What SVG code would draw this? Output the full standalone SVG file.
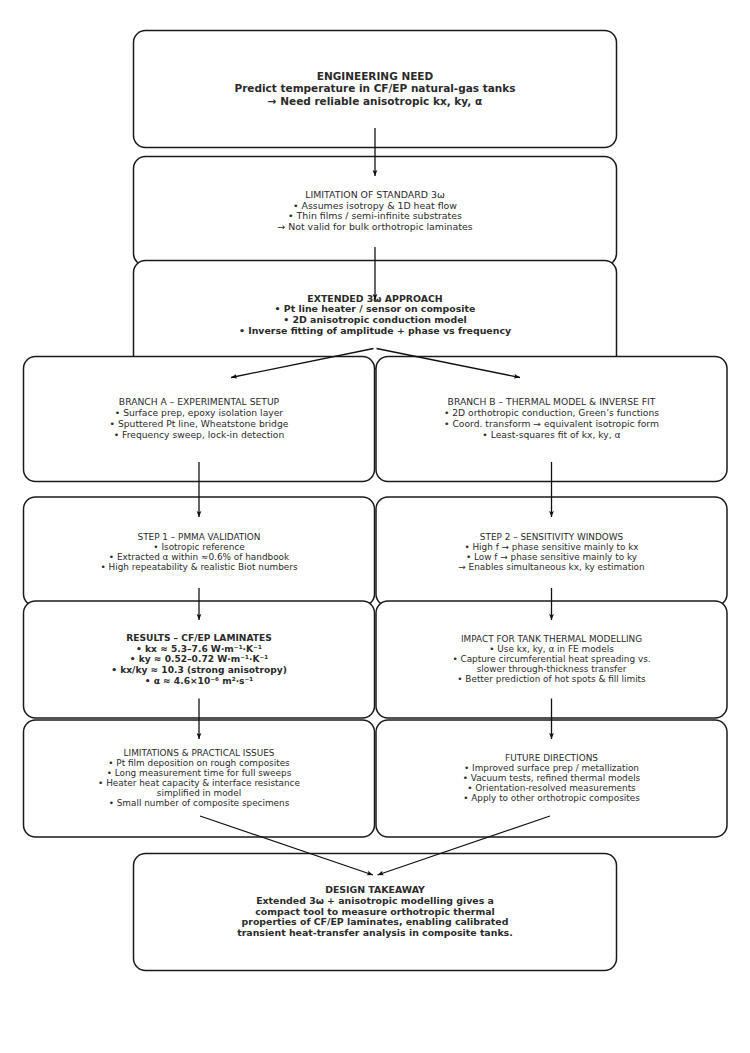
<svg xmlns="http://www.w3.org/2000/svg" width="750" height="1053" viewBox="0 0 750 1053">
<style>
.box{fill:#fff;stroke:#1a1a1a;stroke-width:1.5}
text{font-family:"DejaVu Sans",Verdana,sans-serif;fill:#2b2b2b;text-anchor:middle}
.b{font-weight:bold}
.conn line{stroke:#111;stroke-width:1.3;marker-end:url(#ah)}
</style>
<defs>
<marker id="ah" viewBox="0 0 10 10" refX="10" refY="5" markerWidth="6" markerHeight="6" orient="auto" markerUnits="userSpaceOnUse">
<path d="M0,1 L10,5 L0,9 L2,5 Z" fill="#111"/>
</marker>
</defs>
<rect width="750" height="1053" fill="#fff"/>

<g id="need">
<rect class="box" x="133.5" y="30.5" width="483" height="117" rx="12"/>
<text class="b" font-size="10.5"><tspan x="375" y="79.6">ENGINEERING NEED</tspan><tspan x="375" y="92.1">Predict temperature in CF/EP natural-gas tanks</tspan><tspan x="375" y="104.6">→ Need reliable anisotropic kx, ky, α</tspan></text>
</g>

<g id="limitation">
<rect class="box" x="133.5" y="156.5" width="483" height="109" rx="12"/>
<text font-size="9.4"><tspan x="375" y="198.2">LIMITATION OF STANDARD 3ω</tspan><tspan x="375" y="208.8">• Assumes isotropy &amp; 1D heat flow</tspan><tspan x="375" y="219.4">• Thin films / semi-infinite substrates</tspan><tspan x="375" y="230">→ Not valid for bulk orthotropic laminates</tspan></text>
</g>

<g id="extended">
<rect class="box" x="133.5" y="260.5" width="483" height="108" rx="12"/>
<text class="b" font-size="9.4"><tspan x="375" y="301.5">EXTENDED 3ω APPROACH</tspan><tspan x="375" y="312.2">• Pt line heater / sensor on composite</tspan><tspan x="375" y="322.9">• 2D anisotropic conduction model</tspan><tspan x="375" y="333.6">• Inverse fitting of amplitude + phase vs frequency</tspan></text>
</g>

<g id="branchA">
<rect class="box" x="23.5" y="356.5" width="351" height="125" rx="12"/>
<text font-size="9.2"><tspan x="199" y="404.8">BRANCH A – EXPERIMENTAL SETUP</tspan><tspan x="199" y="415.8">• Surface prep, epoxy isolation layer</tspan><tspan x="199" y="426.8">• Sputtered Pt line, Wheatstone bridge</tspan><tspan x="199" y="437.8">• Frequency sweep, lock-in detection</tspan></text>
</g>

<g id="branchB">
<rect class="box" x="376" y="356.5" width="351" height="125" rx="12"/>
<text font-size="9.2"><tspan x="551.5" y="404.8">BRANCH B – THERMAL MODEL &amp; INVERSE FIT</tspan><tspan x="551.5" y="415.8">• 2D orthotropic conduction, Green’s functions</tspan><tspan x="551.5" y="426.8">• Coord. transform → equivalent isotropic form</tspan><tspan x="551.5" y="437.8">• Least-squares fit of kx, ky, α</tspan></text>
</g>

<g id="step1">
<rect class="box" x="23.5" y="497" width="351" height="109" rx="12"/>
<text font-size="8.9"><tspan x="199" y="539.8">STEP 1 – PMMA VALIDATION</tspan><tspan x="199" y="549.8">• Isotropic reference</tspan><tspan x="199" y="559.8">• Extracted α within ≈0.6% of handbook</tspan><tspan x="199" y="569.8">• High repeatability &amp; realistic Biot numbers</tspan></text>
</g>

<g id="step2">
<rect class="box" x="376" y="497" width="351" height="109" rx="12"/>
<text font-size="8.9"><tspan x="551.5" y="539.8">STEP 2 – SENSITIVITY WINDOWS</tspan><tspan x="551.5" y="549.8">• High f → phase sensitive mainly to kx</tspan><tspan x="551.5" y="559.8">• Low f → phase sensitive mainly to ky</tspan><tspan x="551.5" y="569.8">→ Enables simultaneous kx, ky estimation</tspan></text>
</g>

<g id="results">
<rect class="box" x="23.5" y="601" width="351" height="117" rx="12"/>
<text class="b" font-size="9.1"><tspan x="199" y="640.8">RESULTS – CF/EP LAMINATES</tspan><tspan x="199" y="651.6">• kx ≈ 5.3–7.6 W·m⁻¹·K⁻¹</tspan><tspan x="199" y="662.4">• ky ≈ 0.52–0.72 W·m⁻¹·K⁻¹</tspan><tspan x="199" y="673.2">• kx/ky ≈ 10.3 (strong anisotropy)</tspan><tspan x="199" y="684">• α ≈ 4.6×10⁻⁶ m²·s⁻¹</tspan></text>
</g>

<g id="impact">
<rect class="box" x="376" y="601" width="351" height="117" rx="12"/>
<text font-size="8.9"><tspan x="551.5" y="642.4">IMPACT FOR TANK THERMAL MODELLING</tspan><tspan x="551.5" y="652.4">• Use kx, ky, α in FE models</tspan><tspan x="551.5" y="662.4">• Capture circumferential heat spreading vs.</tspan><tspan x="551.5" y="672.4">slower through-thickness transfer</tspan><tspan x="551.5" y="682.4">• Better prediction of hot spots &amp; fill limits</tspan></text>
</g>

<g id="limitations">
<rect class="box" x="23.5" y="720" width="351" height="117" rx="12"/>
<text font-size="8.9"><tspan x="199" y="756.1">LIMITATIONS &amp; PRACTICAL ISSUES</tspan><tspan x="199" y="766.1">• Pt film deposition on rough composites</tspan><tspan x="199" y="776.1">• Long measurement time for full sweeps</tspan><tspan x="199" y="786.1">• Heater heat capacity &amp; interface resistance</tspan><tspan x="199" y="796.1">simplified in model</tspan><tspan x="199" y="806.1">• Small number of composite specimens</tspan></text>
</g>

<g id="future">
<rect class="box" x="376" y="720" width="351" height="117" rx="12"/>
<text font-size="8.9"><tspan x="551.5" y="761.4">FUTURE DIRECTIONS</tspan><tspan x="551.5" y="771.4">• Improved surface prep / metallization</tspan><tspan x="551.5" y="781.4">• Vacuum tests, refined thermal models</tspan><tspan x="551.5" y="791.4">• Orientation-resolved measurements</tspan><tspan x="551.5" y="801.4">• Apply to other orthotropic composites</tspan></text>
</g>

<g id="takeaway">
<rect class="box" x="133.5" y="853.5" width="483" height="117" rx="12"/>
<text class="b" font-size="9.4"><tspan x="375" y="893.2">DESIGN TAKEAWAY</tspan><tspan x="375" y="903.9">Extended 3ω + anisotropic modelling gives a</tspan><tspan x="375" y="914.6">compact tool to measure orthotropic thermal</tspan><tspan x="375" y="925.3">properties of CF/EP laminates, enabling calibrated</tspan><tspan x="375" y="936">transient heat-transfer analysis in composite tanks.</tspan></text>
</g>

<g id="connectors" class="conn">
<line x1="375" y1="128" x2="375" y2="176"/>
<line x1="375" y1="247" x2="375" y2="300"/>
<line x1="373.5" y1="348.5" x2="231" y2="377.5"/>
<line x1="376.5" y1="348.5" x2="520" y2="377.5"/>
<line x1="199" y1="462" x2="199" y2="517"/>
<line x1="551.5" y1="462" x2="551.5" y2="517"/>
<line x1="199" y1="588" x2="199" y2="620"/>
<line x1="551.5" y1="588" x2="551.5" y2="620"/>
<line x1="199" y1="698.5" x2="199" y2="739"/>
<line x1="551.5" y1="698.5" x2="551.5" y2="739"/>
<line x1="200" y1="816" x2="373" y2="875"/>
<line x1="550" y1="816" x2="377.5" y2="875"/>
</g>
</svg>
